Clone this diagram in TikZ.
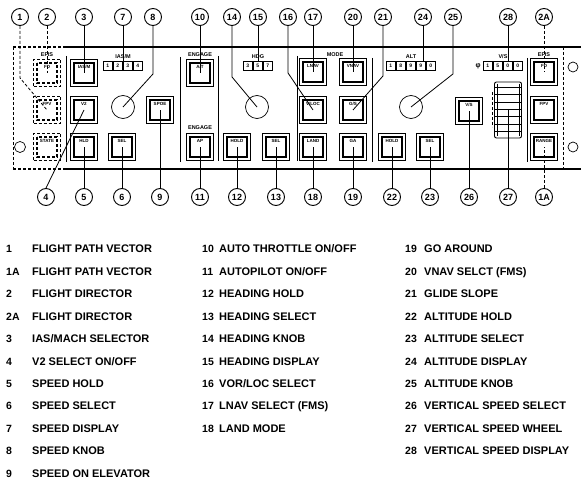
\documentclass[tikz,border=0pt]{standalone}
\usepackage{fontspec}
\setmainfont{Liberation Sans}
\usetikzlibrary{calc}
\begin{document}
\begin{tikzpicture}[x=1pt,y=-1pt,
  btntext/.style={anchor=north, yshift=-6pt, font=\fontsize{4.5}{5}\selectfont\bfseries, inner sep=0pt},
  btn/.style={draw, minimum size=27pt, inner sep=0pt, line width=0.6pt,
    path picture={\draw[line width=1.1pt] ([xshift=3.5pt,yshift=-3.5pt]path picture bounding box.north west) rectangle ([xshift=-3.5pt,yshift=3.5pt]path picture bounding box.south east);},
    label={[btntext]north:#1}},
  dbtn/.style={btn=#1, densely dashed},
  knob/.style={circle, draw, minimum size=23pt, inner sep=0pt, line width=0.7pt},
  co/.style={circle, draw, line width=0.9pt, minimum size=17pt, inner sep=0pt, font=\fontsize{9}{9}\selectfont\bfseries},
  lead/.style={line width=0.8pt},
  disp/.style={minimum height=8.5pt, minimum width=#1, inner sep=0pt},
  dcell/.style={draw, line width=0.8pt, minimum width=9pt, minimum height=8.5pt, inner sep=0pt, font=\fontsize{5}{5}\selectfont\bfseries},
  sect/.style={font=\fontsize{5.5}{6}\selectfont\bfseries, inner sep=0pt},
  panel/.style={line width=1.2pt},
  sep/.style={line width=0.7pt},
  num/.style={anchor=base west, inner sep=0pt, font=\fontsize{10.5}{12}\selectfont\bfseries},
  itm/.style={anchor=base west, inner sep=0pt, font=\fontsize{11}{12}\selectfont\bfseries},
]
\useasboundingbox[fill=white] (0,0) rectangle (581,481);

% panel outline
\draw[panel, densely dashed] (13,47) -- (66,47);
\draw[panel] (66,47) -- (581,47);
\draw[panel, densely dashed] (13,169) -- (66,169);
\draw[panel, line width=1.6pt] (66,169) -- (581,169);
\draw[line width=0.8pt, densely dashed] (13,47) -- (13,169);
\draw[line width=0.8pt, densely dashed] (563,47) -- (563,169);
\draw[line width=0.7pt] (20,147) circle (5.5);
\draw[line width=0.7pt] (573,67) circle (5);
\draw[line width=0.7pt] (573,147) circle (5);

% separators
\draw[sep] (66,56) -- (66,162);
\draw[sep] (180,57) -- (180,162);
\draw[sep] (218,56) -- (218,161);
\draw[sep] (297,56) -- (297,161);
\draw[sep] (372,58) -- (372,162);
\draw[sep] (527,58) -- (527,162);

% section labels
\node[sect] (sEFISl) at (47,55) {EFIS};
\node[sect] (sIAS) at (123,57) {IAS/M};
\node[sect] (sENG1) at (200,55) {ENGAGE};
\node[sect] (sENG2) at (200,128) {ENGAGE};
\node[sect] (sHDG) at (258,57) {HDG};
\node[sect] (sMODE) at (335,55) {MODE};
\node[sect] (sALT) at (411,57) {ALT};
\node[sect] (sVS) at (503,57) {V/S};
\node[sect] (sEFISr) at (544,55) {EFIS};

% buttons
\node[dbtn=FD] (b2) at (47,73) {};
\node[dbtn=FPV] (b1) at (47,110) {};
\node[dbtn=STATE] (bST) at (47,147) {};
\node[btn=IAS/M] (b3) at (84,73) {};
\node[btn=V2] (b4) at (84,110) {};
\node[btn=HLD] (b5) at (84,147) {};
\node[btn=SEL] (b6) at (122,147) {};
\node[btn=SPOE] (b9) at (160,110) {};
\node[btn=A/T] (b10) at (200,73) {};
\node[btn=AP] (b11) at (200,147) {};
\node[btn=HOLD] (b12) at (237,147) {};
\node[btn=SEL] (b13) at (276,147) {};
\node[btn=LNAV] (b17) at (313,72) {};
\node[btn=VNAV] (b20) at (353,72) {};
\node[btn=V/LOC] (b16) at (313,110) {};
\node[btn=G/S] (b21) at (353,110) {};
\node[btn=LAND] (b18) at (313,147) {};
\node[btn=GA] (b19) at (353,147) {};
\node[btn=HOLD] (b22) at (392,147) {};
\node[btn=SEL] (b23) at (430,147) {};
\node[btn=V/S] (b26) at (469,111) {};
\node[btn=FD] (b2A) at (544,72) {};
\node[btn=FPV] (bFPVr) at (544,110) {};
\node[btn=RANGE] (b1A) at (544,147) {};

% knobs
\node[knob] (k8) at (123,107) {};
\node[knob] (k14) at (257,107) {};
\node[knob] (k25) at (411,107) {};

% displays
\node[disp=40pt] (d7) at (123,66) {};
\foreach \d [count=\i] in {1,2,3,4} \node[dcell] (d7c\i) at ($(d7.west)+(\i*10-5,0)$) {\d};
\node[disp=30pt] (d15) at (258,66) {};
\foreach \d [count=\i] in {3,5,7} \node[dcell] (d15c\i) at ($(d15.west)+(\i*10-5,0)$) {\d};
\node[disp=50pt] (d24) at (411,66) {};
\foreach \d [count=\i] in {1,8,9,9,0} \node[dcell] (d24c\i) at ($(d24.west)+(\i*10-5,0)$) {\d};
\node[disp=40pt] (d28) at (503,66) {};
\foreach \d [count=\i] in {1,5,0,0} \node[dcell] (d28c\i) at ($(d28.west)+(\i*10-5,0)$) {\d};
\node[inner sep=0pt, font=\fontsize{7}{7}\selectfont\bfseries] (vsign) at (478,66) {φ};

% vertical speed wheel
\node[draw, line width=0.9pt, rounded corners=2pt, minimum width=27pt, minimum height=56pt, inner sep=0pt] (w27) at (508,110) {};
\draw[line width=0.5pt] ($(w27.north west)+(3,2)$) -- ($(w27.south west)+(3,-2)$);
\draw[line width=0.5pt] ($(w27.north east)+(-3,2)$) -- ($(w27.south east)+(-3,-2)$);
\foreach \yy in {6,13,21,28,35,43,50}
  \draw[line width=0.7pt] ($(w27.north west)+(0,\yy)$) -- ($(w27.north east)+(0,\yy)$);
\draw[line width=0.6pt, densely dashed] (492,92) -- (492,127);

% top callouts
\foreach \nm/\xx in {1/20, 2/47, 3/84, 7/123, 8/153, 10/200, 14/232, 15/258, 16/288, 17/313, 20/353, 21/383, 24/423, 25/453, 28/508}
  \node[co] (c\nm) at (\xx,17) {\nm};
\node[co] (c2A) at (544,17) {2A};
% bottom callouts
\foreach \nm/\xx in {4/46, 5/84, 6/122, 9/160, 11/200, 12/237, 13/276, 18/313, 19/353, 22/392, 23/430, 26/469, 27/508}
  \node[co] (c\nm) at (\xx,197) {\nm};
\node[co] (c1A) at (544,197) {1A};

% top leaders
\draw[lead, densely dashed] (c1.south) -- ++(0,52) -- (b1.center);
\draw[lead, densely dashed] (c2) -- (b2.center);
\draw[lead] (c3) -- (b3.center);
\draw[lead] (c7) -- (c7 |- d7.north);
\draw[lead] (c8.south) -- ++(0,48) -- (k8.center);
\draw[lead] (c10) -- (b10.center);
\draw[lead] (c14.south) -- ++(0,51) -- (k14.center);
\draw[lead] (c15) -- (c15 |- d15.north);
\draw[lead] (c16.south) -- ++(0,47) -- (b16.center);
\draw[lead] (c17) -- (b17.center);
\draw[lead] (c20) -- (b20.center);
\draw[lead] (c21.south) -- ++(0,50) -- (b21.center);
\draw[lead] (c24) -- (c24 |- d24.north);
\draw[lead] (c25.south) -- ++(0,48) -- (k25.center);
\draw[lead] (c28) -- (c28 |- d28.north);
\draw[lead, densely dashed] (c2A) -- (b2A.center);

% bottom leaders
\draw[lead] (c4.north) -- (b4.center);
\draw[lead] (c5) -- (b5.center);
\draw[lead] (c6) -- (b6.center);
\draw[lead] (c9) -- (b9.center);
\draw[lead] (c11) -- (b11.center);
\draw[lead] (c12) -- (b12.center);
\draw[lead] (c13) -- (b13.center);
\draw[lead] (c18) -- (b18.center);
\draw[lead] (c19) -- (b19.center);
\draw[lead] (c22) -- (b22.center);
\draw[lead] (c23) -- (b23.center);
\draw[lead] (c26) -- (b26.center);
\draw[lead] (c27) -- (w27.center);
\draw[lead, densely dashed] (c1A) -- (b1A.center);

% legend
\foreach \n/\t [count=\i from 0] in {1/{FLIGHT PATH VECTOR}, 1A/{FLIGHT PATH VECTOR}, 2/{FLIGHT DIRECTOR}, 2A/{FLIGHT DIRECTOR}, 3/{IAS/MACH SELECTOR}, 4/{V2 SELECT ON/OFF}, 5/{SPEED HOLD}, 6/{SPEED SELECT}, 7/{SPEED DISPLAY}, 8/{SPEED KNOB}, 9/{SPEED ON ELEVATOR}} {
  \node[num] (n\n) at (6,253+\i*22.4) {\n};
  \node[itm] (t\n) at (32,253+\i*22.4) {\t};
}
\foreach \n/\t [count=\i from 0] in {10/{AUTO THROTTLE ON/OFF}, 11/{AUTOPILOT ON/OFF}, 12/{HEADING HOLD}, 13/{HEADING SELECT}, 14/{HEADING KNOB}, 15/{HEADING DISPLAY}, 16/{VOR/LOC SELECT}, 17/{LNAV SELECT (FMS)}, 18/{LAND MODE}} {
  \node[num] (n\n) at (202,253+\i*22.4) {\n};
  \node[itm] (t\n) at (219,253+\i*22.4) {\t};
}
\foreach \n/\t [count=\i from 0] in {19/{GO AROUND}, 20/{VNAV SELCT (FMS)}, 21/{GLIDE SLOPE}, 22/{ALTITUDE HOLD}, 23/{ALTITUDE SELECT}, 24/{ALTITUDE DISPLAY}, 25/{ALTITUDE KNOB}, 26/{VERTICAL SPEED SELECT}, 27/{VERTICAL SPEED WHEEL}, 28/{VERTICAL SPEED DISPLAY}} {
  \node[num] (n\n) at (405,253+\i*22.4) {\n};
  \node[itm] (t\n) at (424,253+\i*22.4) {\t};
}
\end{tikzpicture}
\end{document}
